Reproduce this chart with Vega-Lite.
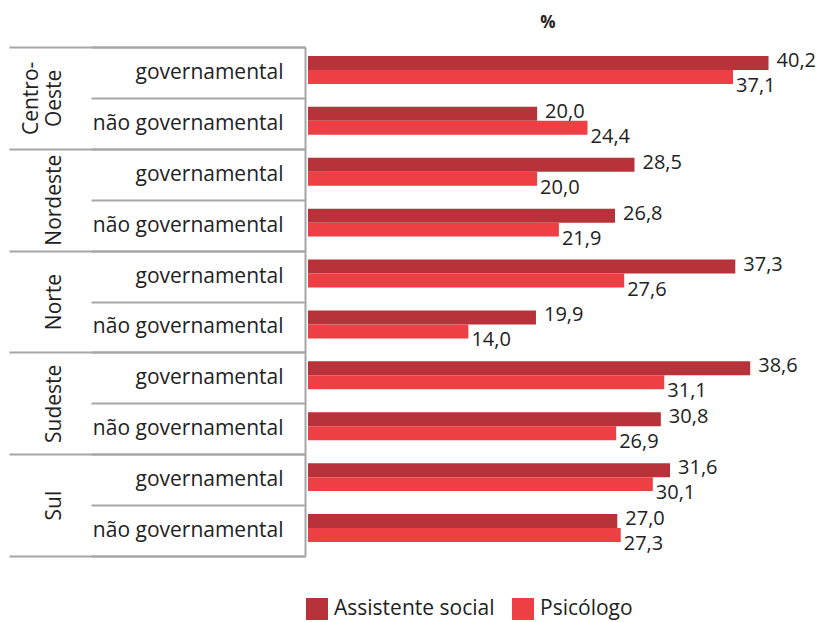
{
  "$schema": "https://vega.github.io/schema/vega-lite/v6.json",
  "width": 480,
  "height": 509,
  "padding": {"left": 8, "top": 14, "right": 2, "bottom": 0},
  "background": "white",
  "config": {
    "view": {"stroke": null},
    "font": "Open Sans",
    "locale": {"number": {"decimal": ",", "thousands": ".", "grouping": [3], "currency": ["R$", ""]}}
  },
  "title": {"text": "%", "fontSize": 17, "fontWeight": "bold", "font": "Open Sans", "color": "#222222", "offset": 4},
  "datasets": {
    "bars": [
      {"key": "Centro-Oeste|governamental", "series": "Assistente social", "value": 40.2},
      {"key": "Centro-Oeste|governamental", "series": "Psicólogo", "value": 37.1},
      {"key": "Centro-Oeste|não governamental", "series": "Assistente social", "value": 20.0},
      {"key": "Centro-Oeste|não governamental", "series": "Psicólogo", "value": 24.4},
      {"key": "Nordeste|governamental", "series": "Assistente social", "value": 28.5},
      {"key": "Nordeste|governamental", "series": "Psicólogo", "value": 20.0},
      {"key": "Nordeste|não governamental", "series": "Assistente social", "value": 26.8},
      {"key": "Nordeste|não governamental", "series": "Psicólogo", "value": 21.9},
      {"key": "Norte|governamental", "series": "Assistente social", "value": 37.3},
      {"key": "Norte|governamental", "series": "Psicólogo", "value": 27.6},
      {"key": "Norte|não governamental", "series": "Assistente social", "value": 19.9},
      {"key": "Norte|não governamental", "series": "Psicólogo", "value": 14.0},
      {"key": "Sudeste|governamental", "series": "Assistente social", "value": 38.6},
      {"key": "Sudeste|governamental", "series": "Psicólogo", "value": 31.1},
      {"key": "Sudeste|não governamental", "series": "Assistente social", "value": 30.8},
      {"key": "Sudeste|não governamental", "series": "Psicólogo", "value": 26.9},
      {"key": "Sul|governamental", "series": "Assistente social", "value": 31.6},
      {"key": "Sul|governamental", "series": "Psicólogo", "value": 30.1},
      {"key": "Sul|não governamental", "series": "Assistente social", "value": 27.0},
      {"key": "Sul|não governamental", "series": "Psicólogo", "value": 27.3}
    ],
    "regions": [
      {"region": "Centro-Oeste"},
      {"region": "Nordeste"},
      {"region": "Norte"},
      {"region": "Sudeste"},
      {"region": "Sul"}
    ]
  },
  "layer": [
    {
      "data": {"name": "bars"},
      "encoding": {
        "y": {
          "field": "key", "type": "nominal", "sort": null,
          "scale": {"paddingInner": 0, "paddingOuter": 0},
          "axis": {
            "title": null, "orient": "left", "offset": 3,
            "tickBand": "extent", "tickSize": 214, "tickColor": "#A6A6A6", "tickWidth": 2,
            "domainColor": "#A6A6A6", "domainWidth": 2,
            "labelExpr": "split(datum.value, '|')[1]",
            "labelPadding": -192, "labelFontSize": 21, "labelColor": "#222222",
            "labelLimit": 0, "labelOverlap": false, "labelAlign": "right", "labelBaseline": "middle"
          }
        },
        "yOffset": {
          "field": "series", "type": "nominal",
          "sort": ["Assistente social", "Psicólogo"],
          "scale": {"paddingInner": 0, "paddingOuter": 0.82, "align": 0.39}
        },
        "x": {
          "field": "value", "type": "quantitative",
          "scale": {"domain": [0, 41.9], "nice": false},
          "axis": null
        }
      },
      "layer": [
        {
          "mark": {"type": "bar"},
          "encoding": {
            "color": {
              "field": "series", "type": "nominal",
              "scale": {"domain": ["Assistente social", "Psicólogo"], "range": ["#B8323A", "#EE4044"]},
              "legend": {
                "orient": "none", "legendX": -2, "legendY": 551, "direction": "horizontal",
                "title": null, "symbolType": "square", "symbolSize": 484, "symbolStrokeWidth": 0,
                "labelFontSize": 21, "labelColor": "#222222", "columnPadding": 17, "labelOffset": 6, "labelLimit": 0
              }
            }
          }
        },
        {
          "transform": [{"filter": "datum.series === 'Assistente social'"}],
          "mark": {"type": "text", "align": "left", "baseline": "middle", "dx": 8, "dy": -2, "fontSize": 20, "color": "#222222"},
          "encoding": {"text": {"field": "value", "type": "quantitative", "format": ".1f"}}
        },
        {
          "transform": [{"filter": "datum.series === 'Psicólogo'"}],
          "mark": {"type": "text", "align": "left", "baseline": "middle", "dx": 3, "dy": 9, "fontSize": 20, "color": "#222222"},
          "encoding": {"text": {"field": "value", "type": "quantitative", "format": ".1f"}}
        }
      ]
    },
    {
      "data": {"name": "regions"},
      "mark": {"type": "rule", "opacity": 0},
      "encoding": {
        "y": {
          "field": "region", "type": "nominal", "sort": null,
          "scale": {"paddingInner": 0, "paddingOuter": 0},
          "axis": {
            "title": null, "orient": "left", "offset": 3, "domain": false,
            "tickBand": "extent", "tickSize": 296, "tickColor": "#A6A6A6", "tickWidth": 2,
            "labelExpr": "datum.value === 'Centro-Oeste' ? ['Centro-', 'Oeste'] : datum.value",
            "labelAngle": -90, "labelAlign": "center", "labelBaseline": "alphabetic",
            "labelPadding": {"condition": {"test": "datum.value === 'Centro-Oeste'", "value": -28}, "value": -51},
            "labelFontSize": 21, "labelColor": "#222222",
            "labelLimit": 0, "labelOverlap": false, "labelLineHeight": 23
          }
        }
      }
    }
  ],
  "resolve": {"scale": {"y": "independent"}, "axis": {"y": "independent"}}
}
